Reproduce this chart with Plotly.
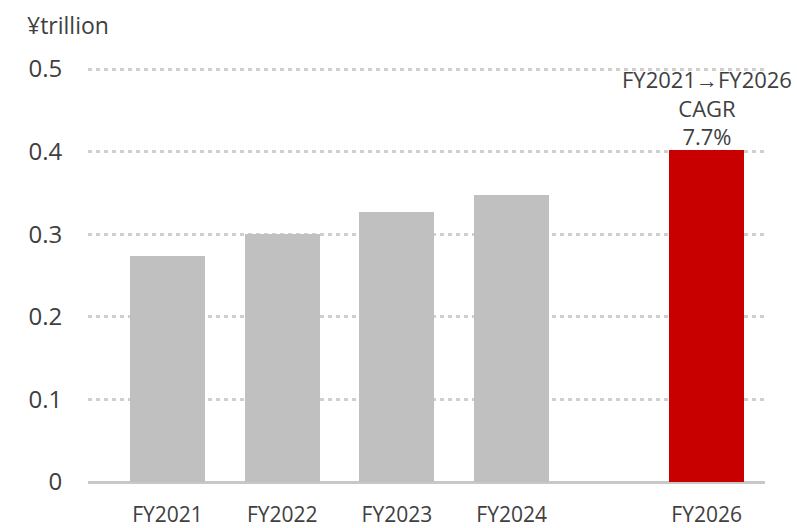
import plotly.graph_objects as go

categories = ["FY2021", "FY2022", "FY2023", "FY2024", "FY2026"]
values = [0.274, 0.300, 0.327, 0.347, 0.402]
bar_colors = ["#c0c0c0", "#c0c0c0", "#c0c0c0", "#c0c0c0", "#c80000"]
y_ticks = [0, 0.1, 0.2, 0.3, 0.4, 0.5]
y_tick_labels = ["0", "0.1", "0.2", "0.3", "0.4", "0.5"]
unit_label = "¥trillion"
cagr_text = "FY2021→FY2026<br>CAGR<br>7.7%"

# slot positions (FY2025 omitted, leaving a gap)
x_pos = [0, 1, 2, 3, 4.7]

W, H = 797, 528
PX_PER_UNIT = 826.0          # vertical pixels per 1.0 of value
PAD_TOP, PAD_BOT = 3, 2      # small padding so edge lines are not clipped
L, R = 88, 32
T, B = 69 - PAD_TOP, 46 - PAD_BOT
plot_w = W - L - R
plot_h = H - T - B
y_lo = -PAD_BOT / PX_PER_UNIT
y_hi = 0.5 + PAD_TOP / PX_PER_UNIT

FONT = "Open Sans, Noto Sans, sans-serif"
TXT = "#404040"

fig = go.Figure()
fig.add_trace(go.Bar(
    x=x_pos, y=values, width=0.654,
    marker=dict(color=bar_colors, line=dict(width=0)),
    hoverinfo="skip",
))

fig.add_annotation(
    x=x_pos[-1], y=values[-1], xref="x", yref="y",
    text=cagr_text, showarrow=False, xanchor="center", yanchor="bottom",
    font=dict(family=FONT, size=22, color=TXT), yshift=-3,
)
fig.add_annotation(
    x=(25 - L) / plot_w, y=1 + (T - 25) / plot_h, xref="paper", yref="paper",
    text=unit_label, showarrow=False, xanchor="left", yanchor="middle",
    font=dict(family=FONT, size=23, color=TXT),
)

fig.update_layout(
    width=W, height=H,
    margin=dict(l=L, r=R, t=T, b=B, pad=0, autoexpand=False),
    plot_bgcolor="white", paper_bgcolor="white",
    showlegend=False,
    bargap=0,
    font=dict(family=FONT, size=20, color=TXT),
    xaxis=dict(
        range=[-0.693, 5.209],
        tickvals=x_pos, ticktext=categories,
        showgrid=False, zeroline=False, showline=False,
        ticks="outside", ticklen=12, tickcolor="rgba(0,0,0,0)",
        tickfont=dict(family=FONT, size=21, color=TXT),
        automargin=False, fixedrange=True,
    ),
    yaxis=dict(
        range=[y_lo, y_hi],
        tickvals=y_ticks, ticktext=y_tick_labels,
        showgrid=True, gridcolor="#cfcfcf", gridwidth=3, griddash="4px,4px",
        zeroline=True, zerolinecolor="#c8c8c8", zerolinewidth=3,
        showline=False,
        ticks="outside", ticklen=20, tickcolor="rgba(0,0,0,0)",
        tickfont=dict(family=FONT, size=24, color=TXT),
        automargin=False, fixedrange=True,
    ),
)

fig.write_html("out.html")
